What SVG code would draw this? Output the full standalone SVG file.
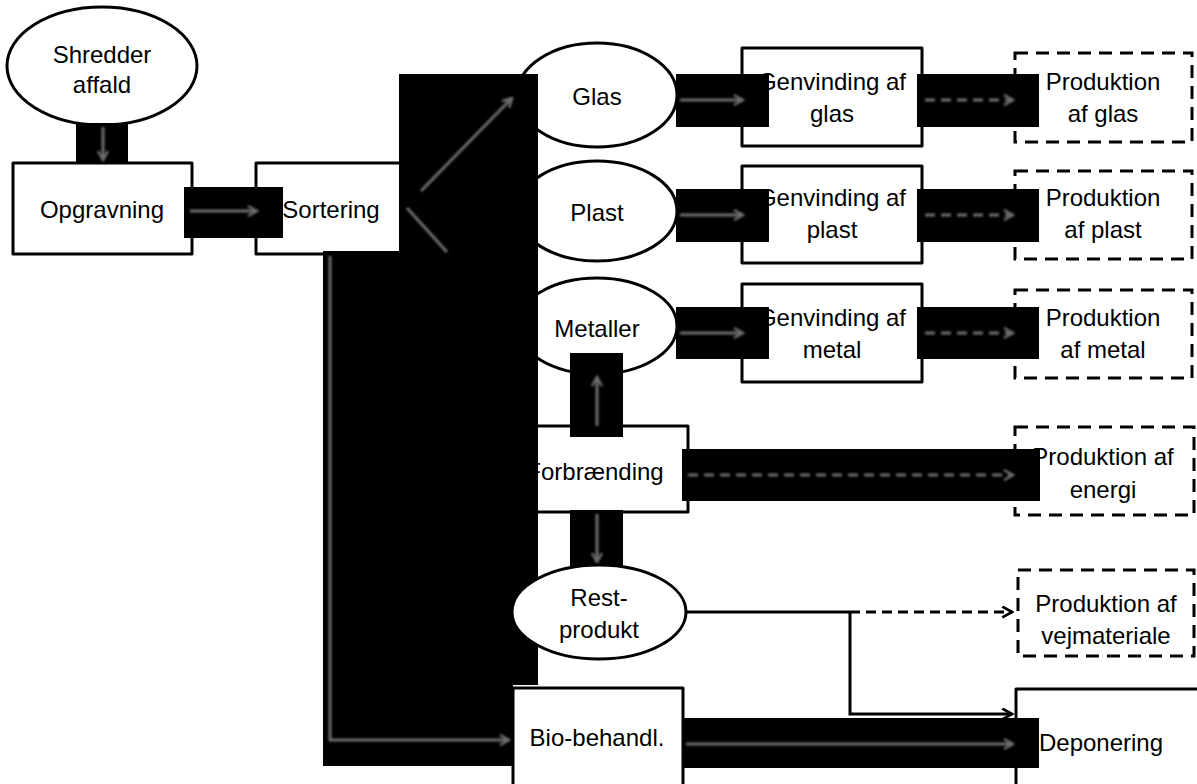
<svg xmlns="http://www.w3.org/2000/svg" width="1197" height="784" viewBox="0 0 1197 784">
  <style>
    .box{fill:#fff;stroke:#000;stroke-width:3;stroke-linejoin:round}
    .dbox{fill:#fff;stroke:#000;stroke-width:3;stroke-dasharray:13 8}
    text{font-family:"Liberation Sans",Arial,sans-serif;font-size:24px;fill:#000;text-anchor:middle}
    .blk{fill:#000}
    .ga{fill:none;stroke:#6e6e6e;stroke-width:3;filter:url(#soft)}
    .gd{fill:none;stroke:#6e6e6e;stroke-width:3;stroke-dasharray:10 6;filter:url(#soft)}
    .ln{fill:none;stroke:#000;stroke-width:3}
  </style>
  <defs>
    <filter id="soft" filterUnits="userSpaceOnUse" x="0" y="0" width="1197" height="784">
      <feGaussianBlur stdDeviation="0.8"/>
    </filter>
    <marker id="gh" viewBox="0 0 12 12" refX="10" refY="6" markerWidth="12" markerHeight="12" markerUnits="userSpaceOnUse" orient="auto">
      <path d="M1,1 L10,6 L1,11" fill="none" stroke="#6e6e6e" stroke-width="2.5"/>
    </marker>
    <marker id="bh" viewBox="0 0 12 12" refX="10" refY="6" markerWidth="13" markerHeight="13" markerUnits="userSpaceOnUse" orient="auto">
      <path d="M1,1 L10,6 L1,11" fill="none" stroke="#000" stroke-width="2.5"/>
    </marker>
  </defs>
  <rect width="1197" height="784" fill="#fff"/>

  <!-- nodes drawn beneath the connector layer -->
  <g id="shredder">
    <ellipse cx="102" cy="66" rx="95" ry="59" class="box"/>
    <text x="102" y="63">Shredder</text>
    <text x="102" y="93">affald</text>
  </g>
  <g id="opgravning">
    <rect x="13" y="163" width="179" height="91" class="box"/>
    <text x="102" y="218">Opgravning</text>
  </g>
  <g id="sortering">
    <rect x="256" y="163" width="155" height="91" class="box"/>
    <text x="331" y="218">Sortering</text>
  </g>
  <g id="glas">
    <ellipse cx="597" cy="95" rx="80" ry="52" class="box"/>
    <text x="597" y="105">Glas</text>
  </g>
  <g id="plast">
    <ellipse cx="597" cy="211" rx="80" ry="50" class="box"/>
    <text x="597" y="221">Plast</text>
  </g>
  <g id="metaller">
    <ellipse cx="597" cy="326" rx="80" ry="48" class="box"/>
    <text x="597" y="337">Metaller</text>
  </g>
  <g id="forbraending">
    <rect x="513" y="426" width="175" height="86" class="box"/>
    <text x="595" y="480">Forbrænding</text>
  </g>
  <g id="genvinding-glas">
    <rect x="742" y="48" width="180" height="98" class="box"/>
    <text x="832" y="90">Genvinding af</text>
    <text x="832" y="122">glas</text>
  </g>
  <g id="genvinding-plast">
    <rect x="742" y="166" width="180" height="97" class="box"/>
    <text x="832" y="206">Genvinding af</text>
    <text x="832" y="238">plast</text>
  </g>
  <g id="genvinding-metal">
    <rect x="742" y="284" width="180" height="98" class="box"/>
    <text x="832" y="326">Genvinding af</text>
    <text x="832" y="358">metal</text>
  </g>
  <g id="produktion-glas">
    <rect x="1015" y="53" width="177" height="89" class="dbox"/>
    <text x="1103" y="90">Produktion</text>
    <text x="1103" y="122">af glas</text>
  </g>
  <g id="produktion-plast">
    <rect x="1015" y="171" width="177" height="88" class="dbox"/>
    <text x="1103" y="206">Produktion</text>
    <text x="1103" y="238">af plast</text>
  </g>
  <g id="produktion-metal">
    <rect x="1015" y="290" width="177" height="88" class="dbox"/>
    <text x="1103" y="326">Produktion</text>
    <text x="1103" y="358">af metal</text>
  </g>
  <g id="produktion-energi">
    <rect x="1015" y="427" width="179" height="88" class="dbox"/>
    <text x="1103" y="465">Produktion af</text>
    <text x="1103" y="498">energi</text>
  </g>
  <g id="produktion-vejmateriale">
    <rect x="1018" y="570" width="176" height="86" class="dbox"/>
    <text x="1106" y="612">Produktion af</text>
    <text x="1106" y="644">vejmateriale</text>
  </g>
  <g id="deponering">
    <rect x="1016" y="689" width="190" height="110" class="box"/>
    <text x="1101" y="751">Deponering</text>
  </g>

  <!-- connectors: each arrow sits on its own black backing block -->
  <g id="connectors">
    <rect x="76" y="123" width="52" height="40" class="blk"/>
    <rect x="184" y="187" width="99" height="51" class="blk"/>
    <path d="M399,74 H538 V685 H513 V766 H323 V251 H399 Z" class="blk"/>
    <rect x="570" y="353" width="53" height="84" class="blk"/>
    <rect x="570" y="510" width="53" height="56" class="blk"/>
    <rect x="676" y="74" width="93" height="53" class="blk"/>
    <rect x="917" y="74" width="122" height="53" class="blk"/>
    <rect x="676" y="189" width="93" height="53" class="blk"/>
    <rect x="917" y="189" width="122" height="53" class="blk"/>
    <rect x="676" y="307" width="93" height="52" class="blk"/>
    <rect x="917" y="307" width="122" height="52" class="blk"/>
    <rect x="682" y="449" width="358" height="52" class="blk"/>
    <rect x="677" y="718" width="362" height="50" class="blk"/>

    <path d="M103,127 V160" class="ga" marker-end="url(#gh)"/>
    <path d="M190,211 H257" class="ga" marker-end="url(#gh)"/>
    <path d="M421,191 L512,98" class="ga" marker-end="url(#gh)"/>
    <path d="M407,208 L447,252" class="ga"/>
    <path d="M330,256 V740 H509" class="ga" marker-end="url(#gh)"/>
    <path d="M680,100 H743" class="ga" marker-end="url(#gh)"/>
    <path d="M925,100 H1013" class="gd" marker-end="url(#gh)"/>
    <path d="M680,215 H743" class="ga" marker-end="url(#gh)"/>
    <path d="M925,215 H1013" class="gd" marker-end="url(#gh)"/>
    <path d="M680,333 H743" class="ga" marker-end="url(#gh)"/>
    <path d="M925,333 H1013" class="gd" marker-end="url(#gh)"/>
    <path d="M597,426 V377" class="ga" marker-end="url(#gh)"/>
    <path d="M597,514 V562" class="ga" marker-end="url(#gh)"/>
    <path d="M688,475 H1013" class="gd" marker-end="url(#gh)"/>
    <path d="M686,744 H1013" class="ga" marker-end="url(#gh)"/>

    <path d="M686,612 H850" class="ln"/>
    <path d="M850,612 H1012" class="ln" stroke-dasharray="10 6" marker-end="url(#bh)"/>
    <path d="M850,612 V714 H1012" class="ln" marker-end="url(#bh)"/>
  </g>

  <!-- nodes drawn above the connector layer -->
  <g id="restprodukt">
    <ellipse cx="599" cy="612" rx="87" ry="47" class="box"/>
    <text x="599" y="606">Rest-</text>
    <text x="599" y="638">produkt</text>
  </g>
  <g id="bio-behandl">
    <rect x="513" y="688" width="170" height="110" class="box"/>
    <text x="597" y="746">Bio-behandl.</text>
  </g>
</svg>
